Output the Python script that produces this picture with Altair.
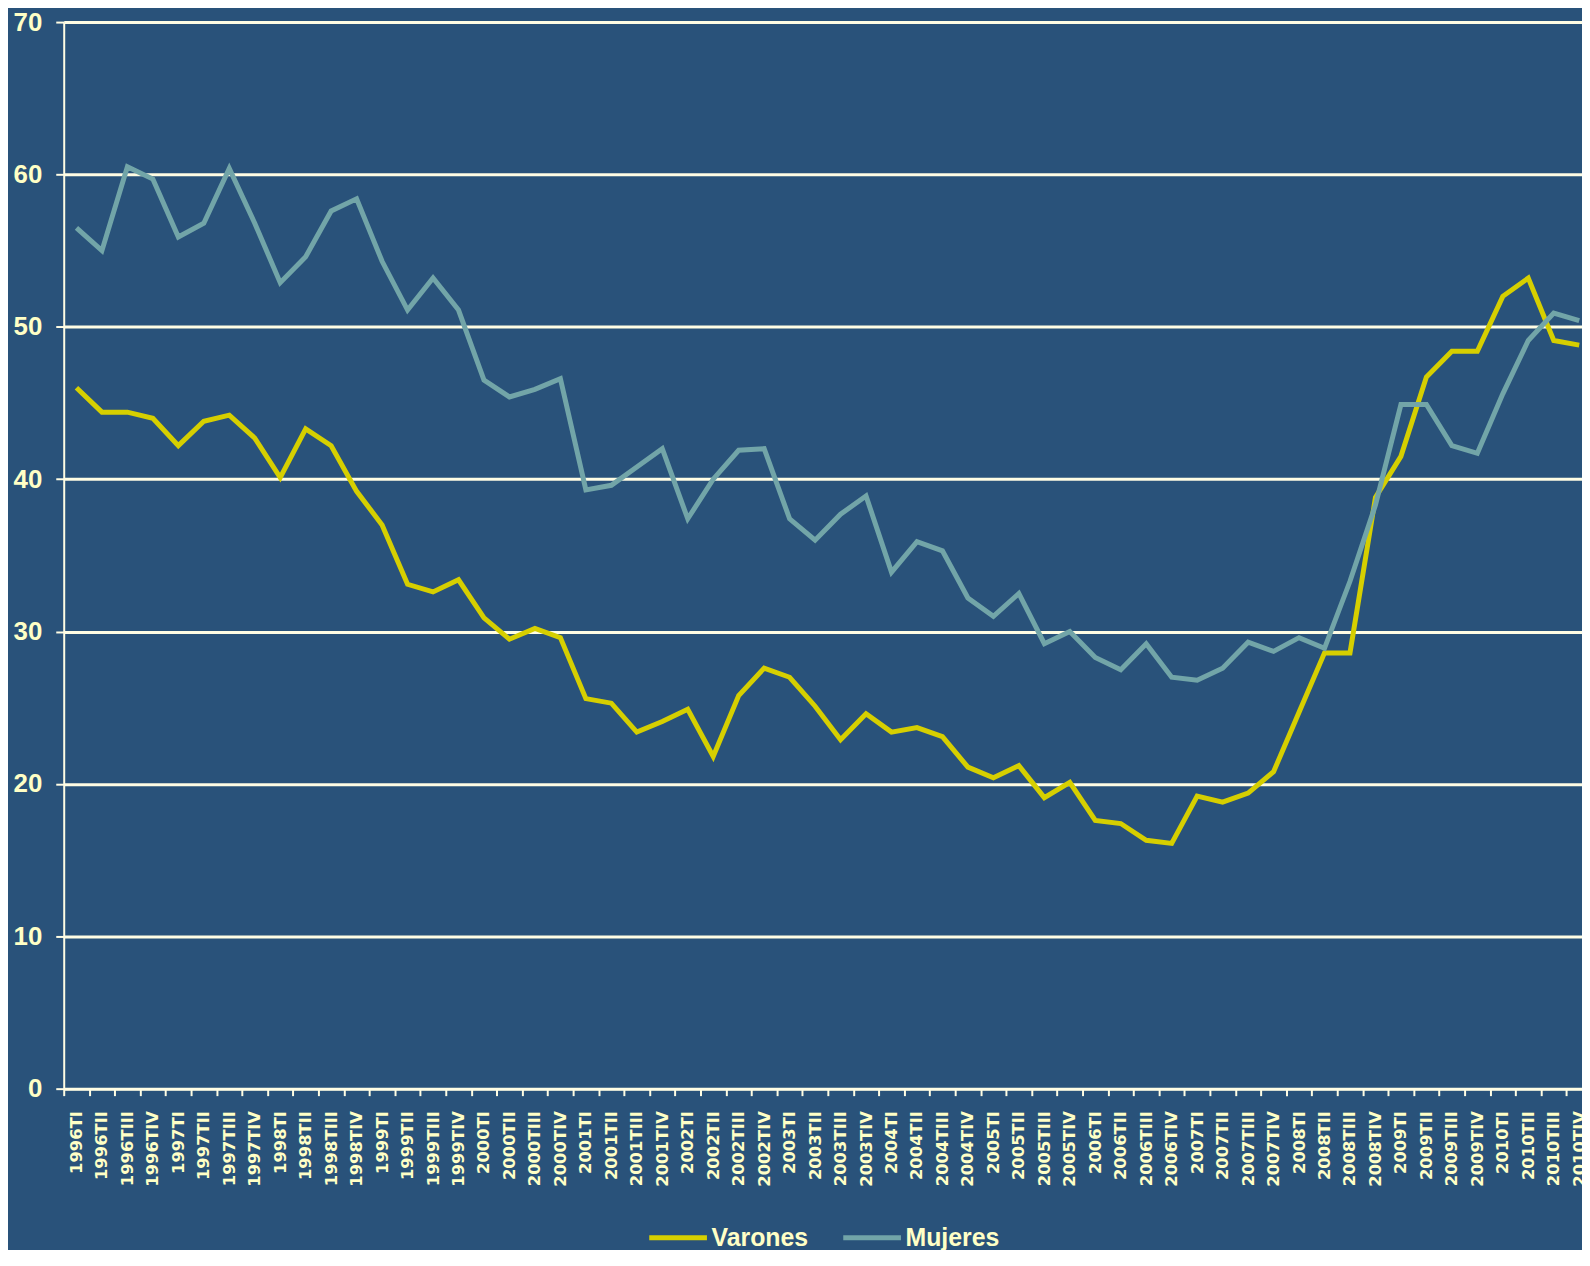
import altair as alt
import pandas as pd

periodos = [
    "1996TI", "1996TII", "1996TIII", "1996TIV",
    "1997TI", "1997TII", "1997TIII", "1997TIV",
    "1998TI", "1998TII", "1998TIII", "1998TIV",
    "1999TI", "1999TII", "1999TIII", "1999TIV",
    "2000TI", "2000TII", "2000TIII", "2000TIV",
    "2001TI", "2001TII", "2001TIII", "2001TIV",
    "2002TI", "2002TII", "2002TIII", "2002TIV",
    "2003TI", "2003TII", "2003TIII", "2003TIV",
    "2004TI", "2004TII", "2004TIII", "2004TIV",
    "2005TI", "2005TII", "2005TIII", "2005TIV",
    "2006TI", "2006TII", "2006TIII", "2006TIV",
    "2007TI", "2007TII", "2007TIII", "2007TIV",
    "2008TI", "2008TII", "2008TIII", "2008TIV",
    "2009TI", "2009TII", "2009TIII", "2009TIV",
    "2010TI", "2010TII", "2010TIII", "2010TIV",
]

varones = [
    46.0, 44.4, 44.4, 44.0, 42.2, 43.8, 44.2, 42.7, 40.1, 43.3,
    42.2, 39.2, 37.0, 33.1, 32.6, 33.4, 30.9, 29.5, 30.2, 29.6,
    25.6, 25.3, 23.4, 24.1, 24.9, 21.8, 25.8, 27.6, 27.0, 25.1,
    22.9, 24.6, 23.4, 23.7, 23.1, 21.1, 20.4, 21.2, 19.1, 20.1,
    17.6, 17.4, 16.3, 16.1, 19.2, 18.8, 19.4, 20.8, 24.7, 28.6,
    28.6, 38.8, 41.5, 46.7, 48.4, 48.4, 52.0, 53.2, 49.1, 48.8,
]

mujeres = [
    56.5, 55.0, 60.5, 59.7, 55.9, 56.8, 60.4, 56.8, 52.9, 54.6,
    57.6, 58.4, 54.3, 51.1, 53.2, 51.1, 46.5, 45.4, 45.9, 46.6,
    39.3, 39.6, 40.8, 42.0, 37.4, 40.0, 41.9, 42.0, 37.4, 36.0,
    37.7, 38.9, 33.9, 35.9, 35.3, 32.2, 31.0, 32.5, 29.2, 30.0,
    28.3, 27.5, 29.2, 27.0, 26.8, 27.6, 29.3, 28.7, 29.6, 28.9,
    33.3, 38.3, 44.9, 44.9, 42.2, 41.7, 45.6, 49.1, 50.9, 50.4,
]

series = ["Varones", "Mujeres"]
y_ticks = [0, 10, 20, 30, 40, 50, 60, 70]

BG = "#29527A"
CREAM = "#FFFDE4"
TEXT = "#FFFFC6"
YELLOW = "#D6CF00"
TEAL = "#72A5A8"

rows = []
for p, v, m in zip(periodos, varones, mujeres):
    rows.append({"periodo": p, "serie": "Varones", "valor": v})
    rows.append({"periodo": p, "serie": "Mujeres", "valor": m})
df = pd.DataFrame(rows)

x = alt.X(
    "periodo:O",
    sort=periodos,
    scale=alt.Scale(type="band", range=[0, 1536], paddingInner=0, paddingOuter=0),
    axis=alt.Axis(
        title=None,
        labelAngle=270,
        labelFont="DejaVu Sans",
        labelFontWeight="bold",
        labelFontSize=16.5,
        labelColor=TEXT,
        labelPadding=15,
        labelOverlap=False,
        tickBand="extent",
        tickSize=7,
        tickWidth=2,
        tickColor=CREAM,
        domainColor=CREAM,
        domainWidth=2,
        grid=False,
    ),
)

y = alt.Y(
    "valor:Q",
    scale=alt.Scale(domain=[0, 70], nice=False),
    axis=alt.Axis(
        title=None,
        values=y_ticks,
        labelFont="Liberation Sans",
        labelFontWeight="bold",
        labelFontSize=26,
        labelColor=TEXT,
        labelPadding=14,
        tickSize=8,
        tickWidth=2,
        tickColor=CREAM,
        domainColor=CREAM,
        domainWidth=2,
        grid=True,
        gridColor=CREAM,
        gridWidth=3,
        gridOpacity=1,
    ),
)

color = alt.Color(
    "serie:N",
    scale=alt.Scale(domain=series, range=[YELLOW, TEAL]),
    legend=alt.Legend(
        title=None,
        orient="none",
        direction="horizontal",
        legendX=586,
        legendY=1190,
        padding=0,
        symbolType="stroke",
        symbolSize=3364,
        symbolStrokeWidth=5,
        labelFont="Liberation Sans",
        labelFontWeight="bold",
        labelFontSize=25,
        labelColor=TEXT,
        labelOffset=2,
        columnPadding=24,
    ),
)

base = alt.Chart(df).encode(x=x, y=y, color=color)

l_var = base.transform_filter(alt.datum.serie == "Varones").mark_line(strokeWidth=5)
l_muj = base.transform_filter(alt.datum.serie == "Mujeres").mark_line(strokeWidth=5)

chart = (
    alt.layer(l_var, l_muj)
    .properties(
        width=1526,
        height=1072,
        background=BG,
        padding={"left": 56, "top": 11, "right": 0, "bottom": 159},
        autosize=alt.AutoSizeParams(type="none"),
    )
    .configure_view(stroke=None)
)

chart.save("out.html", embed_options={"renderer": "svg", "actions": False})
